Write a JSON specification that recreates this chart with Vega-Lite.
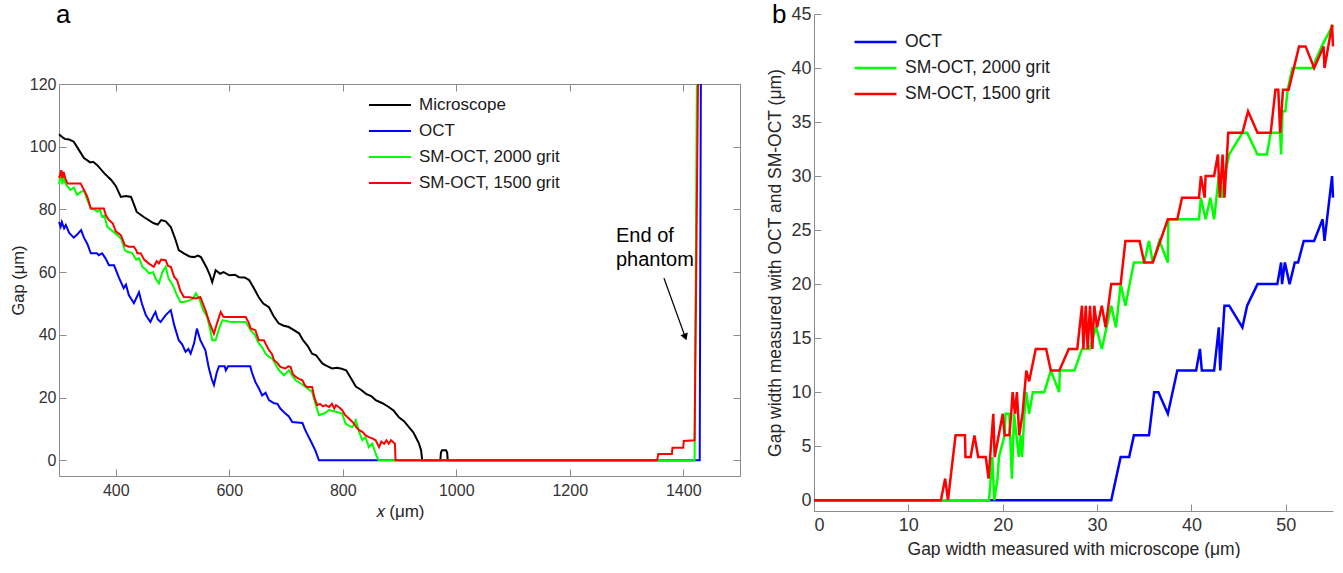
{
  "$schema": "https://vega.github.io/schema/vega-lite/v6.json",
  "padding": {"left": 10, "top": 2, "right": 0, "bottom": 0},
  "background": "white",
  "config": {
    "font": "Liberation Sans",
    "view": {"stroke": null},
    "axis": {"domainColor": "#8c8c8c", "tickColor": "#8c8c8c", "labelColor": "#333333", "titleColor": "#262626", "titleFontWeight": "normal", "grid": false, "labelFont": "Liberation Sans", "titleFont": "Liberation Sans"},
    "legend": {"labelFont": "Liberation Sans", "labelColor": "#1a1a1a"}
  },
  "datasets": {
    "aMic": [{"x":300,"y":104},{"x":305,"y":103.2},{"x":310,"y":102.5},{"x":318,"y":102.3},{"x":326,"y":101.6},{"x":335,"y":99},{"x":344,"y":96.4},{"x":355,"y":95},{"x":360,"y":95.2},{"x":367,"y":94.2},{"x":380,"y":91.5},{"x":392,"y":89.4},{"x":400,"y":87.5},{"x":409,"y":84},{"x":418,"y":84.3},{"x":427,"y":84},{"x":437,"y":79.2},{"x":450,"y":77.5},{"x":467,"y":75.6},{"x":474,"y":75.2},{"x":480,"y":76.6},{"x":488,"y":76.2},{"x":497,"y":74.4},{"x":505,"y":70.5},{"x":511,"y":67},{"x":520,"y":66},{"x":530,"y":65},{"x":538,"y":64.8},{"x":545,"y":65.3},{"x":550,"y":64.8},{"x":560,"y":61.5},{"x":566,"y":59},{"x":570,"y":56.8},{"x":576,"y":60.6},{"x":584,"y":59.5},{"x":590,"y":60},{"x":600,"y":59},{"x":610,"y":59.2},{"x":617,"y":58.4},{"x":627,"y":58.3},{"x":635,"y":57.5},{"x":643,"y":55},{"x":652,"y":52},{"x":660,"y":50},{"x":670,"y":48.8},{"x":678,"y":46},{"x":687,"y":43.7},{"x":695,"y":43},{"x":705,"y":42.5},{"x":714,"y":41.5},{"x":723,"y":40.5},{"x":730,"y":38.3},{"x":738,"y":36.5},{"x":746,"y":34},{"x":753,"y":33.5},{"x":764,"y":30.9},{"x":770,"y":30.3},{"x":781,"y":29.3},{"x":790,"y":29.5},{"x":798,"y":29.2},{"x":806,"y":28.7},{"x":815,"y":26},{"x":823,"y":23.5},{"x":832,"y":22.5},{"x":841,"y":21.2},{"x":850,"y":20.5},{"x":858,"y":19.2},{"x":870,"y":18.2},{"x":881,"y":17},{"x":890,"y":15.8},{"x":899,"y":13.7},{"x":908,"y":12.5},{"x":917,"y":10.5},{"x":924,"y":9},{"x":929,"y":7.3},{"x":934,"y":5.5},{"x":938,"y":3.2},{"x":940,"y":0},{"x":972,"y":0},{"x":973,"y":2.5},{"x":975,"y":3.2},{"x":982,"y":3.2},{"x":984,"y":2.5},{"x":985,"y":0},{"x":1420,"y":0}],
    "aOct": [{"x":300,"y":76},{"x":303,"y":74.5},{"x":305,"y":76},{"x":309,"y":74},{"x":312,"y":75},{"x":318,"y":72.5},{"x":326,"y":71},{"x":332,"y":72},{"x":339,"y":73.4},{"x":344,"y":71},{"x":350,"y":69},{"x":356,"y":66},{"x":367,"y":66},{"x":370,"y":65.4},{"x":376,"y":66},{"x":382,"y":64.4},{"x":388,"y":62.2},{"x":397,"y":62.2},{"x":406,"y":58.1},{"x":414,"y":54.9},{"x":418,"y":56},{"x":423,"y":52.7},{"x":432,"y":50.1},{"x":441,"y":53.6},{"x":446,"y":50},{"x":453,"y":46.3},{"x":461,"y":44.1},{"x":466,"y":46},{"x":470,"y":47.3},{"x":474,"y":45},{"x":479,"y":44.1},{"x":488,"y":46.3},{"x":497,"y":47.9},{"x":503,"y":43.1},{"x":511,"y":38.3},{"x":517,"y":37},{"x":523,"y":34.6},{"x":528,"y":35.5},{"x":532,"y":34},{"x":538,"y":37.3},{"x":543,"y":42},{"x":549,"y":38.3},{"x":558,"y":35.1},{"x":564,"y":29.4},{"x":569,"y":26},{"x":573,"y":24},{"x":578,"y":28},{"x":582,"y":30},{"x":592,"y":30},{"x":594,"y":28.7},{"x":598,"y":30},{"x":637,"y":30},{"x":640,"y":28},{"x":646,"y":25},{"x":652,"y":23},{"x":658,"y":20.7},{"x":664,"y":21.5},{"x":670,"y":19.2},{"x":679,"y":18.2},{"x":685,"y":18},{"x":690,"y":16.5},{"x":699,"y":14.9},{"x":705,"y":14},{"x":711,"y":12.2},{"x":729,"y":11.9},{"x":733,"y":10},{"x":737,"y":8.5},{"x":746,"y":5.3},{"x":752,"y":3},{"x":758,"y":0},{"x":1429,"y":0},{"x":1431,"y":120}],
    "aG": [{"x":300,"y":88},{"x":302,"y":90},{"x":304,"y":91},{"x":306,"y":88},{"x":308,"y":90},{"x":312,"y":88},{"x":320,"y":86.2},{"x":326,"y":87},{"x":332,"y":84.6},{"x":338,"y":85.5},{"x":344,"y":86},{"x":350,"y":83},{"x":356,"y":80.3},{"x":362,"y":80},{"x":367.5,"y":79.3},{"x":372,"y":80},{"x":376,"y":77.7},{"x":380,"y":78},{"x":385,"y":74.5},{"x":395,"y":73},{"x":403,"y":71.8},{"x":410,"y":70.5},{"x":416,"y":67},{"x":420,"y":66.5},{"x":426,"y":66.3},{"x":429,"y":66},{"x":436,"y":64},{"x":441,"y":64.5},{"x":447,"y":61.7},{"x":452,"y":61},{"x":458.6,"y":59.6},{"x":466,"y":60},{"x":470,"y":58},{"x":476,"y":56.4},{"x":482,"y":60},{"x":488,"y":61.7},{"x":493,"y":58},{"x":500,"y":56},{"x":507,"y":53},{"x":514,"y":50.5},{"x":520,"y":50.5},{"x":530,"y":51},{"x":536,"y":51.5},{"x":541,"y":53.2},{"x":547,"y":51.6},{"x":554,"y":48},{"x":561,"y":45.7},{"x":566,"y":42},{"x":570,"y":38.3},{"x":576,"y":38.3},{"x":582,"y":42},{"x":588,"y":44.7},{"x":600,"y":44.2},{"x":629,"y":44.1},{"x":637.7,"y":41.5},{"x":645,"y":40},{"x":652,"y":37.3},{"x":658,"y":36},{"x":664,"y":34},{"x":670,"y":33},{"x":676,"y":32.4},{"x":682,"y":30.5},{"x":687.6,"y":28.7},{"x":696.5,"y":27.1},{"x":705,"y":28.7},{"x":711,"y":27},{"x":717,"y":25.5},{"x":726,"y":24.5},{"x":734.5,"y":23.4},{"x":746,"y":21.8},{"x":752,"y":18},{"x":758,"y":14.4},{"x":768,"y":15},{"x":776,"y":16},{"x":788,"y":15.5},{"x":799,"y":14.9},{"x":805,"y":11.7},{"x":811,"y":11},{"x":817,"y":10.6},{"x":823,"y":12.8},{"x":829,"y":9},{"x":834.5,"y":6.4},{"x":840,"y":7.4},{"x":846,"y":4.2},{"x":852,"y":5.3},{"x":858,"y":2.1},{"x":863,"y":0},{"x":1420,"y":0},{"x":1424,"y":120}],
    "aR": [{"x":300,"y":90},{"x":302,"y":91},{"x":304,"y":92.5},{"x":306,"y":90},{"x":308,"y":92},{"x":312,"y":89.4},{"x":315,"y":88.3},{"x":338,"y":88.3},{"x":344,"y":86.2},{"x":350,"y":84},{"x":356,"y":80.3},{"x":379,"y":80.3},{"x":383,"y":78},{"x":388,"y":76.6},{"x":395,"y":75.5},{"x":400,"y":73},{"x":409,"y":71.8},{"x":416,"y":68.6},{"x":423,"y":68.1},{"x":432,"y":68.1},{"x":436,"y":67},{"x":438,"y":66},{"x":444,"y":66},{"x":450,"y":64},{"x":458,"y":62.8},{"x":467,"y":61.7},{"x":472,"y":63.5},{"x":476,"y":62.8},{"x":480,"y":64},{"x":488,"y":63.8},{"x":492,"y":62},{"x":497,"y":61.7},{"x":503,"y":58.5},{"x":508,"y":57.5},{"x":514,"y":54},{"x":520,"y":52.1},{"x":530,"y":52},{"x":541,"y":51.6},{"x":549,"y":52.1},{"x":558,"y":47.9},{"x":565,"y":44},{"x":573,"y":40.4},{"x":579,"y":44},{"x":585,"y":47.3},{"x":590,"y":45.7},{"x":629,"y":45.7},{"x":634,"y":44},{"x":638,"y":42},{"x":646,"y":41.5},{"x":652,"y":38.3},{"x":661,"y":38.3},{"x":670,"y":35.1},{"x":675,"y":34},{"x":679,"y":31.9},{"x":685,"y":31},{"x":690,"y":29.8},{"x":699,"y":29.3},{"x":704,"y":30},{"x":708,"y":29.8},{"x":712,"y":27.5},{"x":717,"y":26.6},{"x":723,"y":26},{"x":729,"y":25.5},{"x":733,"y":24},{"x":737,"y":23.4},{"x":746,"y":23.4},{"x":750,"y":20},{"x":755,"y":17.6},{"x":760,"y":18},{"x":765,"y":17.2},{"x":770,"y":17.6},{"x":776,"y":17},{"x":781,"y":18},{"x":785,"y":16.5},{"x":788,"y":17.6},{"x":793,"y":17},{"x":799,"y":16},{"x":804,"y":14.5},{"x":808,"y":13.8},{"x":814,"y":12.8},{"x":820,"y":11.7},{"x":824,"y":10.5},{"x":829,"y":9.6},{"x":835,"y":9},{"x":840,"y":8},{"x":846,"y":7.4},{"x":852,"y":7},{"x":858,"y":6.4},{"x":864,"y":4.2},{"x":868,"y":6},{"x":873,"y":5.3},{"x":877,"y":6.4},{"x":881,"y":5.3},{"x":885,"y":6.4},{"x":892,"y":5.3},{"x":893,"y":0},{"x":1354,"y":0},{"x":1356,"y":2},{"x":1380,"y":2},{"x":1381,"y":4},{"x":1400,"y":4},{"x":1401,"y":6.2},{"x":1420,"y":6.4},{"x":1426,"y":120}],
    "bOct": [{"x":0,"y":0},{"x":31.5,"y":0},{"x":32.5,"y":4},{"x":33.4,"y":4},{"x":33.9,"y":6},{"x":35.5,"y":6},{"x":36.05,"y":10},{"x":36.5,"y":10},{"x":37.5,"y":8},{"x":38.5,"y":12},{"x":40.5,"y":12},{"x":40.9,"y":14},{"x":41.1,"y":12},{"x":42.4,"y":12},{"x":42.9,"y":16},{"x":43.05,"y":12},{"x":43.5,"y":18},{"x":44.0,"y":18},{"x":45.4,"y":16},{"x":45.9,"y":18},{"x":47.0,"y":20},{"x":49.1,"y":20},{"x":49.5,"y":22},{"x":49.6,"y":20},{"x":49.9,"y":22},{"x":50.4,"y":20},{"x":50.95,"y":22},{"x":51.3,"y":22},{"x":51.9,"y":24},{"x":53.0,"y":24},{"x":53.9,"y":26},{"x":54.1,"y":24},{"x":54.9,"y":30},{"x":55,"y":28}],
    "bG": [{"x":0,"y":0},{"x":18.55,"y":0},{"x":18.9,"y":4},{"x":19.1,"y":0},{"x":19.45,"y":2},{"x":19.6,"y":4},{"x":20.2,"y":6},{"x":20.3,"y":8},{"x":20.7,"y":8},{"x":20.97,"y":2},{"x":21.2,"y":8},{"x":21.7,"y":4},{"x":21.9,"y":6},{"x":22.05,"y":4},{"x":22.3,"y":8},{"x":22.5,"y":10},{"x":22.8,"y":8},{"x":23.2,"y":10},{"x":24.4,"y":10},{"x":25.1,"y":12},{"x":25.98,"y":10},{"x":26.05,"y":12},{"x":27.6,"y":12},{"x":28.4,"y":14},{"x":29.2,"y":14},{"x":29.9,"y":16},{"x":30.5,"y":14},{"x":31.5,"y":18},{"x":32.0,"y":16},{"x":32.5,"y":20},{"x":33.0,"y":18},{"x":33.9,"y":22},{"x":35.0,"y":22},{"x":35.5,"y":24},{"x":35.9,"y":22},{"x":36.6,"y":24},{"x":37.5,"y":22},{"x":37.55,"y":26},{"x":40.8,"y":26},{"x":41.0,"y":28},{"x":41.5,"y":26},{"x":42.0,"y":28},{"x":42.4,"y":26},{"x":42.9,"y":30},{"x":43.3,"y":28},{"x":43.5,"y":30},{"x":44.0,"y":32},{"x":45.4,"y":34},{"x":45.9,"y":34},{"x":47.0,"y":32},{"x":48.0,"y":32},{"x":48.4,"y":34},{"x":49.4,"y":34},{"x":49.5,"y":32},{"x":49.65,"y":36},{"x":49.95,"y":36},{"x":50.2,"y":38},{"x":50.7,"y":40},{"x":52.8,"y":40},{"x":53.8,"y":42},{"x":55,"y":44}],
    "bR": [{"x":0,"y":0},{"x":13.45,"y":0},{"x":13.9,"y":2},{"x":14.2,"y":0},{"x":15.0,"y":6},{"x":16.0,"y":6},{"x":16.05,"y":4},{"x":16.6,"y":4},{"x":17.0,"y":6},{"x":17.4,"y":4},{"x":18.2,"y":4},{"x":18.5,"y":2},{"x":19.0,"y":8},{"x":19.15,"y":4},{"x":20.0,"y":8},{"x":20.2,"y":6},{"x":20.7,"y":6},{"x":20.9,"y":8},{"x":21.05,"y":10},{"x":21.3,"y":8},{"x":21.5,"y":10},{"x":21.75,"y":6},{"x":22.1,"y":8},{"x":22.5,"y":12},{"x":22.8,"y":11},{"x":23.5,"y":14},{"x":24.6,"y":14},{"x":25.1,"y":12},{"x":26.0,"y":12},{"x":27.0,"y":14},{"x":27.9,"y":14},{"x":28.4,"y":18},{"x":28.55,"y":14},{"x":28.8,"y":18},{"x":29.0,"y":14},{"x":29.25,"y":18},{"x":29.5,"y":14},{"x":29.7,"y":18},{"x":30.0,"y":16},{"x":30.5,"y":18},{"x":30.9,"y":16},{"x":31.5,"y":20},{"x":32.5,"y":20},{"x":33.0,"y":24},{"x":34.5,"y":24},{"x":35.0,"y":22},{"x":35.9,"y":22},{"x":37.5,"y":26},{"x":38.5,"y":26},{"x":39.0,"y":28},{"x":40.8,"y":28},{"x":41.0,"y":30},{"x":41.4,"y":28},{"x":41.5,"y":30},{"x":42.4,"y":30},{"x":42.8,"y":32},{"x":43.0,"y":28},{"x":43.3,"y":32},{"x":43.5,"y":28},{"x":43.9,"y":34},{"x":45.4,"y":34},{"x":46.0,"y":36},{"x":47.0,"y":34},{"x":48.4,"y":34},{"x":48.9,"y":38},{"x":49.2,"y":38},{"x":49.4,"y":34},{"x":49.7,"y":38},{"x":50.3,"y":38},{"x":51.4,"y":42},{"x":52.1,"y":42},{"x":53.0,"y":40},{"x":54.0,"y":42},{"x":54.1,"y":40},{"x":54.9,"y":44},{"x":55,"y":42}]
  },
  "resolve": {"scale": {"color": "independent"}, "legend": {"color": "independent"}},
  "spacing": 25,
  "hconcat": [
    {
      "spacing": 0,
      "resolve": {"scale": {"color": "independent"}, "legend": {"color": "independent"}},
      "vconcat": [
        {
          "width": 681, "height": 62,
          "title": {"text": "a", "anchor": "start", "frame": "group", "dx": -3, "offset": -14, "baseline": "top", "fontSize": 26, "fontWeight": "normal", "color": "#000000", "font": "Liberation Sans"},
          "data": {"values": []},
          "mark": "point"
        },
        {
          "width": 681, "height": 392,
          "resolve": {"axis": {"x": "independent", "y": "independent"}},
          "layer": [
            {
              "data": {"name": "aMic"},
              "mark": {"type": "line", "strokeWidth": 2},
              "encoding": {
                "x": {"field": "x", "type": "quantitative", "scale": {"domain": [300, 1500], "nice": false, "zero": false},
                      "axis": {"orient": "bottom", "values": [400, 600, 800, 1000, 1200, 1400], "format": "d", "tickSize": -7, "labelPadding": 13, "labelFontSize": 16, "title": "𝑥 (μm)", "titleFontSize": 17, "titlePadding": 5}},
                "y": {"field": "y", "type": "quantitative", "scale": {"domain": [-5, 120], "nice": false, "zero": false},
                      "axis": {"orient": "left", "values": [0, 20, 40, 60, 80, 100, 120], "tickSize": -7, "labelPadding": 10, "labelFontSize": 16, "title": "Gap (μm)", "titleFontSize": 16.5, "titlePadding": 3}},
                "color": {"datum": "Microscope", "type": "nominal",
                          "scale": {"domain": ["Microscope", "OCT", "SM-OCT, 2000 grit", "SM-OCT, 1500 grit"], "range": ["#000000", "#0000ff", "#00ff00", "#ff0000"]},
                          "legend": {"title": null, "orient": "none", "legendX": 309, "legendY": 8, "symbolType": "stroke", "symbolSize": 1764, "symbolStrokeWidth": 2, "labelFontSize": 17, "labelOffset": 7, "clipHeight": 26, "rowPadding": 0, "padding": 0}}
              }
            },
            {
              "data": {"name": "aOct"},
              "mark": {"type": "line", "strokeWidth": 2},
              "encoding": {
                "x": {"field": "x", "type": "quantitative", "scale": {"domain": [300, 1500], "nice": false, "zero": false},
                      "axis": {"orient": "top", "values": [400, 600, 800, 1000, 1200, 1400], "tickSize": -7, "labels": false, "title": null}},
                "y": {"field": "y", "type": "quantitative", "scale": {"domain": [-5, 120], "nice": false, "zero": false},
                      "axis": {"orient": "right", "values": [0, 20, 40, 60, 80, 100, 120], "tickSize": -7, "labels": false, "title": null}},
                "color": {"datum": "OCT", "type": "nominal"}
              }
            },
            {
              "data": {"name": "aG"},
              "mark": {"type": "line", "strokeWidth": 2},
              "encoding": {
                "x": {"field": "x", "type": "quantitative", "scale": {"domain": [300, 1500], "nice": false, "zero": false}, "axis": null},
                "y": {"field": "y", "type": "quantitative", "scale": {"domain": [-5, 120], "nice": false, "zero": false}, "axis": null},
                "color": {"datum": "SM-OCT, 2000 grit", "type": "nominal"}
              }
            },
            {
              "data": {"name": "aR"},
              "mark": {"type": "line", "strokeWidth": 2},
              "encoding": {
                "x": {"field": "x", "type": "quantitative", "scale": {"domain": [300, 1500], "nice": false, "zero": false}, "axis": null},
                "y": {"field": "y", "type": "quantitative", "scale": {"domain": [-5, 120], "nice": false, "zero": false}, "axis": null},
                "color": {"datum": "SM-OCT, 1500 grit", "type": "nominal"}
              }
            },
            {
              "data": {"values": [{"x": 1281.5, "y": 69.6, "t": "End of\nphantom"}]},
              "mark": {"type": "text", "align": "left", "baseline": "alphabetic", "fontSize": 20, "lineHeight": 24, "lineBreak": "\n", "color": "#000000"},
              "encoding": {
                "x": {"field": "x", "type": "quantitative", "scale": {"domain": [300, 1500], "nice": false, "zero": false}, "axis": null},
                "y": {"field": "y", "type": "quantitative", "scale": {"domain": [-5, 120], "nice": false, "zero": false}, "axis": null},
                "text": {"field": "t"}
              }
            },
            {
              "data": {"values": [{"x": 1366, "y": 58.1, "x2": 1404.5, "y2": 38.8}]},
              "mark": {"type": "rule", "color": "#000000", "strokeWidth": 1.3},
              "encoding": {
                "x": {"field": "x", "type": "quantitative", "scale": {"domain": [300, 1500], "nice": false, "zero": false}, "axis": null},
                "y": {"field": "y", "type": "quantitative", "scale": {"domain": [-5, 120], "nice": false, "zero": false}, "axis": null},
                "x2": {"field": "x2"},
                "y2": {"field": "y2"}
              }
            },
            {
              "data": {"values": [{"x": 1403.6, "y": 39.3}]},
              "mark": {"type": "point", "shape": "triangle-down", "angle": 340, "filled": true, "color": "#000000", "size": 60, "opacity": 1},
              "encoding": {
                "x": {"field": "x", "type": "quantitative", "scale": {"domain": [300, 1500], "nice": false, "zero": false}, "axis": null},
                "y": {"field": "y", "type": "quantitative", "scale": {"domain": [-5, 120], "nice": false, "zero": false}, "axis": null}
              }
            }
          ]
        }
      ]
    },
    {
      "width": 519, "height": 497,
      "title": {"text": "b", "anchor": "start", "frame": "group", "dx": -42, "offset": -23, "baseline": "top", "fontSize": 26, "fontWeight": "normal", "color": "#000000", "font": "Liberation Sans"},
      "encoding": {
        "x": {"field": "x", "type": "quantitative", "scale": {"domain": [0, 55], "nice": false, "zero": false},
              "axis": {"values": [0, 10, 20, 30, 40, 50], "tickSize": -7, "labelPadding": 12, "labelFontSize": 18, "title": "Gap width measured with microscope (μm)", "titleFontSize": 17.5, "titlePadding": 6}},
        "y": {"field": "y", "type": "quantitative", "scale": {"domain": [-1, 45], "nice": false, "zero": false},
              "axis": {"values": [0, 5, 10, 15, 20, 25, 30, 35, 40, 45], "tickSize": -7, "labelPadding": 10, "labelFontSize": 18, "title": "Gap width measured with OCT and SM-OCT (μm)", "titleFontSize": 17.5, "titlePadding": 6}}
      },
      "layer": [
        {
          "data": {"name": "bOct"},
          "mark": {"type": "line", "strokeWidth": 2.5},
          "encoding": {
            "color": {"datum": "OCT", "type": "nominal",
                      "scale": {"domain": ["OCT", "SM-OCT, 2000 grit", "SM-OCT, 1500 grit"], "range": ["#0000ff", "#00ff00", "#ff0000"]},
                      "legend": {"title": null, "orient": "none", "legendX": 39, "legendY": 15, "symbolType": "stroke", "symbolSize": 1764, "symbolStrokeWidth": 2.5, "labelFontSize": 17.5, "labelOffset": 7, "clipHeight": 26, "rowPadding": 0, "padding": 0}}
          }
        },
        {
          "data": {"name": "bG"},
          "mark": {"type": "line", "strokeWidth": 2.5},
          "encoding": {"color": {"datum": "SM-OCT, 2000 grit", "type": "nominal"}}
        },
        {
          "data": {"name": "bR"},
          "mark": {"type": "line", "strokeWidth": 2.5},
          "encoding": {"color": {"datum": "SM-OCT, 1500 grit", "type": "nominal"}}
        }
      ]
    }
  ]
}
